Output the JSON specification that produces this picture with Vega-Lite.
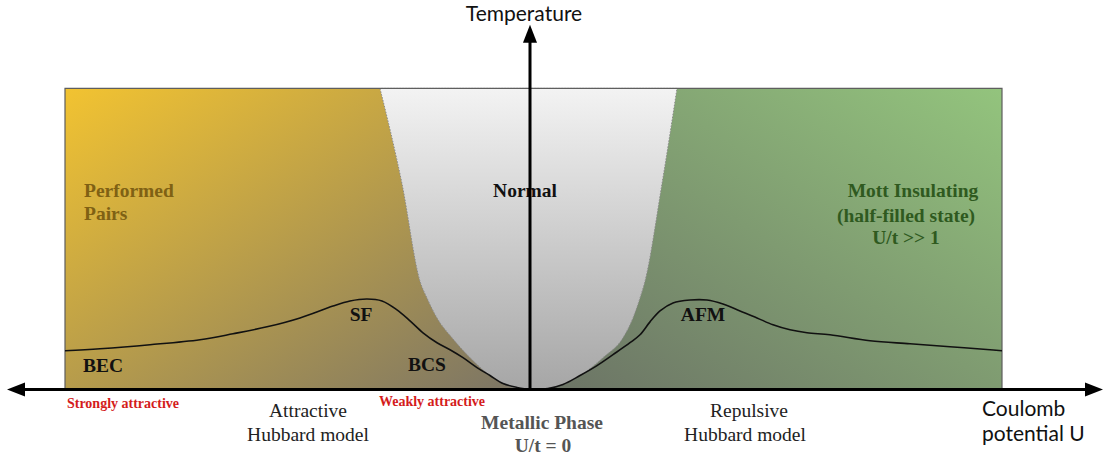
{
  "$schema": "https://vega.github.io/schema/vega-lite/v6.json",
  "width": 1104,
  "height": 456,
  "autosize": {"type": "fit", "contains": "padding"},
  "padding": 0,
  "background": "white",
  "config": {"view": {"stroke": null}, "axis": {"disable": true}},
  "datasets": {
    "regions": [
      {"side": "attractive", "u": -465, "u2": 0, "t": 0, "t2": 303},
      {"side": "repulsive", "u": 0, "u2": 472, "t": 0, "t2": 303}
    ],
    "frame": [{"u": -465, "u2": 472, "t": 0, "t2": 303}],
    "normal": [
      {"u": -150, "t": 303}, {"u": -128, "t": 207}, {"u": -110, "t": 109}, {"u": -103, "t": 92},
      {"u": -93, "t": 72}, {"u": -78, "t": 52}, {"u": -60, "t": 32}, {"u": -37, "t": 12},
      {"u": -17, "t": 2}, {"u": 0, "t": 0}, {"u": 23, "t": 2}, {"u": 47, "t": 12},
      {"u": 73, "t": 32}, {"u": 93, "t": 52}, {"u": 103, "t": 72}, {"u": 110, "t": 92},
      {"u": 115, "t": 109}, {"u": 132, "t": 207}, {"u": 147, "t": 303}
    ],
    "boundary": [
      {"u": -465, "t": 39}, {"u": -430, "t": 41}, {"u": -380, "t": 45}, {"u": -330, "t": 50},
      {"u": -297, "t": 56}, {"u": -263, "t": 63}, {"u": -230, "t": 72}, {"u": -197, "t": 84},
      {"u": -180, "t": 89}, {"u": -163, "t": 91}, {"u": -148, "t": 89}, {"u": -133, "t": 80},
      {"u": -120, "t": 69}, {"u": -107, "t": 57}, {"u": -93, "t": 47}, {"u": -80, "t": 40},
      {"u": -67, "t": 32}, {"u": -53, "t": 22}, {"u": -40, "t": 14}, {"u": -27, "t": 6},
      {"u": -13, "t": 2}, {"u": 0, "t": 0}, {"u": 18, "t": 1}, {"u": 33, "t": 5},
      {"u": 50, "t": 14}, {"u": 67, "t": 24}, {"u": 83, "t": 35}, {"u": 100, "t": 47},
      {"u": 110, "t": 55}, {"u": 120, "t": 68}, {"u": 130, "t": 79}, {"u": 143, "t": 87},
      {"u": 160, "t": 90}, {"u": 177, "t": 90}, {"u": 193, "t": 86}, {"u": 210, "t": 79},
      {"u": 227, "t": 72}, {"u": 243, "t": 65}, {"u": 260, "t": 60}, {"u": 277, "t": 57},
      {"u": 300, "t": 55}, {"u": 340, "t": 49}, {"u": 380, "t": 46}, {"u": 420, "t": 43},
      {"u": 460, "t": 40}, {"u": 472, "t": 39}
    ],
    "axes": [
      {"name": "Coulomb potential U", "u": -512, "u2": 556, "t": 0, "t2": 0},
      {"name": "Temperature", "u": 0, "u2": 0, "t": 0, "t2": 352}
    ],
    "arrows": [
      {"dir": "left", "u": -514, "t": 0},
      {"dir": "right", "u": 564, "t": 0},
      {"dir": "up", "u": 0, "t": 358}
    ],
    "labels": [
      {"kind": "phase", "label": "Normal", "u": -5, "t": 200},
      {"kind": "phase", "label": "BEC", "u": -427, "t": 24},
      {"kind": "phase", "label": "SF", "u": -169, "t": 75},
      {"kind": "phase", "label": "BCS", "u": -103, "t": 25},
      {"kind": "phase", "label": "AFM", "u": 173, "t": 75},
      {"kind": "pairs", "label": "Performed", "u": -446, "t": 200},
      {"kind": "pairs", "label": "Pairs", "u": -446, "t": 177},
      {"kind": "mott", "label": "Mott Insulating", "u": 383, "t": 200},
      {"kind": "mott", "label": "(half-filled state)", "u": 376, "t": 175},
      {"kind": "mott", "label": "U/t >> 1", "u": 376, "t": 152},
      {"kind": "regime", "label": "Strongly attractive", "u": -407, "t": -15},
      {"kind": "regime", "label": "Weakly attractive", "u": -98, "t": -13},
      {"kind": "model", "label": "Attractive", "u": -222, "t": -22},
      {"kind": "model", "label": "Hubbard model", "u": -222, "t": -46},
      {"kind": "model", "label": "Repulsive", "u": 219, "t": -22},
      {"kind": "model", "label": "Hubbard model", "u": 215, "t": -46},
      {"kind": "metallic", "label": "Metallic Phase", "u": 12, "t": -34},
      {"kind": "metallic", "label": "U/t = 0", "u": 13, "t": -57},
      {"kind": "axistitle", "label": "Temperature", "u": -6, "t": 377},
      {"kind": "axistitle2", "label": "Coulomb", "u": 452, "t": -21},
      {"kind": "axistitle2", "label": "potential U", "u": 452, "t": -46}
    ]
  },
  "encoding": {
    "x": {"field": "u", "type": "quantitative", "scale": {"domain": [-530, 574], "nice": false, "zero": false}, "axis": null},
    "y": {"field": "t", "type": "quantitative", "scale": {"domain": [-64, 392], "nice": false, "zero": false}, "axis": null}
  },
  "layer": [
    {
      "data": {"name": "regions"},
      "transform": [{"filter": "datum.side === 'attractive'"}],
      "mark": {"type": "rect", "color": {"gradient": "linear", "x1": 0, "y1": 0, "x2": 1, "y2": 1, "stops": [{"offset": 0, "color": "#f2c331"}, {"offset": 1, "color": "#7a7466"}]}},
      "encoding": {"x2": {"field": "u2"}, "y2": {"field": "t2"}}
    },
    {
      "data": {"name": "regions"},
      "transform": [{"filter": "datum.side === 'repulsive'"}],
      "mark": {"type": "rect", "color": {"gradient": "linear", "x1": 1, "y1": 0, "x2": 0, "y2": 1, "stops": [{"offset": 0, "color": "#93c47d"}, {"offset": 1, "color": "#6b7265"}]}},
      "encoding": {"x2": {"field": "u2"}, "y2": {"field": "t2"}}
    },
    {
      "data": {"name": "normal"},
      "mark": {"type": "area", "interpolate": "monotone", "color": {"gradient": "linear", "x1": 0, "y1": 0, "x2": 0, "y2": 1, "stops": [{"offset": 0, "color": "#f3f3f3"}, {"offset": 1, "color": "#a6a6a6"}]}, "stroke": "#8a8a8a", "strokeWidth": 1, "strokeDash": [1.5, 1.5]},
      "encoding": {"y2": {"datum": 303}}
    },
    {
      "data": {"name": "frame"},
      "mark": {"type": "rect", "fill": null, "fillOpacity": 0, "stroke": "#5e5e5e", "strokeWidth": 1.2},
      "encoding": {"x2": {"field": "u2"}, "y2": {"field": "t2"}}
    },
    {
      "data": {"name": "boundary"},
      "mark": {"type": "line", "interpolate": "catmull-rom", "color": "#111111", "strokeWidth": 1.6},
      "encoding": {}
    },
    {
      "data": {"name": "labels"},
      "transform": [{"filter": "datum.kind === 'phase'"}],
      "mark": {"type": "text", "font": "Liberation Serif", "fontWeight": "bold", "fontSize": 19.5, "color": "#111111", "align": "center", "baseline": "middle"},
      "encoding": {"text": {"field": "label"}}
    },
    {
      "data": {"name": "labels"},
      "transform": [{"filter": "datum.kind === 'pairs'"}],
      "mark": {"type": "text", "font": "Liberation Serif", "fontWeight": "bold", "fontSize": 19.5, "color": "#7f6114", "align": "left", "baseline": "middle"},
      "encoding": {"text": {"field": "label"}}
    },
    {
      "data": {"name": "labels"},
      "transform": [{"filter": "datum.kind === 'mott'"}],
      "mark": {"type": "text", "font": "Liberation Serif", "fontWeight": "bold", "fontSize": 19.5, "color": "#2f5a1f", "align": "center", "baseline": "middle"},
      "encoding": {"text": {"field": "label"}}
    },
    {
      "data": {"name": "labels"},
      "transform": [{"filter": "datum.kind === 'regime'"}],
      "mark": {"type": "text", "font": "Liberation Serif", "fontWeight": "bold", "fontSize": 14, "color": "#d41c1c", "align": "center", "baseline": "middle"},
      "encoding": {"text": {"field": "label"}}
    },
    {
      "data": {"name": "labels"},
      "transform": [{"filter": "datum.kind === 'model'"}],
      "mark": {"type": "text", "font": "Liberation Serif", "fontSize": 19.5, "color": "#222222", "align": "center", "baseline": "middle"},
      "encoding": {"text": {"field": "label"}}
    },
    {
      "data": {"name": "labels"},
      "transform": [{"filter": "datum.kind === 'metallic'"}],
      "mark": {"type": "text", "font": "Liberation Serif", "fontWeight": "bold", "fontSize": 19.5, "color": "#555555", "align": "center", "baseline": "middle"},
      "encoding": {"text": {"field": "label"}}
    },
    {
      "data": {"name": "labels"},
      "transform": [{"filter": "datum.kind === 'axistitle'"}],
      "mark": {"type": "text", "font": "Lato", "fontSize": 21, "color": "#111111", "align": "center", "baseline": "middle"},
      "encoding": {"text": {"field": "label"}}
    },
    {
      "data": {"name": "labels"},
      "transform": [{"filter": "datum.kind === 'axistitle2'"}],
      "mark": {"type": "text", "font": "Lato", "fontSize": 21, "color": "#111111", "align": "left", "baseline": "middle"},
      "encoding": {"text": {"field": "label"}}
    },
    {
      "data": {"name": "axes"},
      "mark": {"type": "rule", "color": "#000000", "strokeWidth": 3},
      "encoding": {"x2": {"field": "u2"}, "y2": {"field": "t2"}}
    },
    {
      "data": {"name": "arrows"},
      "mark": {"type": "point", "filled": true, "color": "#000000", "opacity": 1, "size": 324, "strokeWidth": 0},
      "encoding": {
        "shape": {"field": "dir", "type": "nominal", "legend": null, "scale": {"domain": ["left", "right", "up"], "range": ["M-1,0L1,-0.78L1,0.78Z", "M1,0L-1,-0.78L-1,0.78Z", "M0,-1L-0.78,1L0.78,1Z"]}}
      }
    }
  ]
}
